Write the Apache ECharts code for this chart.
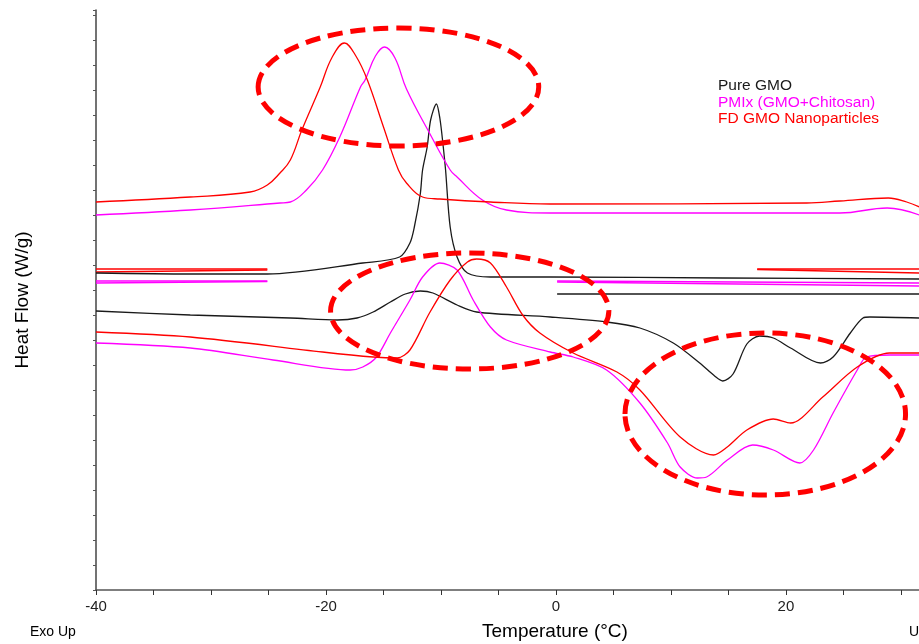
<!DOCTYPE html>
<html>
  <head>
    <meta charset="UTF-8" />
    <title>DSC</title>
    <style>
      html,
      body {
        margin: 0;
        padding: 0;
        width: 100%;
        height: 100%;
        background: #fff;
        overflow: hidden;
      }
      #main {
        width: 919px;
        height: 644px;
      }
    </style>
    <script src="https://cdn.jsdelivr.net/npm/echarts@6/dist/echarts.min.js"></script>
  </head>
  <body>
    <div id="main"></div>
    <script>
      var names = ["Pure GMO", "PMIx (GMO+Chitosan)", "FD GMO Nanoparticles"];
      var colors = ["#1a1a1a", "#ff00ff", "#ff0000"];
      var xTicks = [-40, -20, 0, 20];

      // [temperature, heat flow (arbitrary units)]
      var gmoUpper = [
        [-40, 31.7], [-31.8, 31.6], [-25.1, 31.6], [-16.8, 32.7], [-13.6, 33.3],
        [-12.7, 34.7], [-12.3, 36.4], [-11.8, 39.6], [-11.6, 42.0], [-11.2, 44.3],
        [-10.9, 47.0], [-10.4, 48.6], [-10.1, 47.2], [-9.8, 44.3], [-9.6, 42.0],
        [-9.2, 36.3], [-8.6, 33.3], [-7.7, 31.7], [-5.7, 31.3], [-0.5, 31.3],
        [14.5, 31.2], [31.6, 31.1]
      ];
      var gmoLower = [
        [-40, 27.9], [-31.8, 27.5], [-23.1, 27.2], [-19.0, 27.0], [-17.3, 27.2],
        [-15.9, 27.8], [-14.4, 28.8], [-13.1, 29.6], [-11.8, 29.9], [-10.7, 29.7],
        [-8.6, 28.5], [-6.9, 27.8], [-0.5, 27.3], [4.4, 26.8], [7.3, 26.2],
        [10.2, 24.7], [12.5, 22.7], [13.8, 21.4], [14.5, 20.9], [15.4, 21.6],
        [16.6, 24.6], [17.7, 25.4], [18.9, 25.2], [20.4, 24.2],
        [23.0, 22.7], [24.1, 23.3], [25.6, 25.7], [26.7, 27.2], [27.3, 27.3],
        [31.6, 27.2]
      ];
      var gmoIso = [[0.1, 29.6], [31.6, 29.6]];

      var pmixUpper = [
        [-40, 37.5], [-31.8, 38.0], [-24.0, 38.7], [-23.1, 38.8], [-21.7, 40.0],
        [-20.3, 42.0], [-18.8, 45.3], [-17.0, 50.3], [-16.6, 51.0], [-15.7, 53.4],
        [-14.9, 54.3], [-14.0, 53.2], [-13.0, 50.1], [-11.0, 45.7], [-9.2, 42.0],
        [-8.6, 41.3], [-6.4, 39.0], [-4.3, 38.0], [-0.5, 37.7], [13.1, 37.7],
        [24.7, 37.7], [28.8, 38.2], [31.6, 37.5]
      ];
      var pmixLower = [
        [-40, 24.7], [-31.8, 24.2], [-24.6, 23.0], [-17.9, 22.0], [-16.8, 22.3],
        [-15.6, 23.3], [-14.4, 25.7], [-12.7, 29.0], [-11.6, 31.3], [-10.1, 32.7],
        [-8.6, 32.0], [-7.2, 29.0], [-5.7, 26.3], [-4.3, 25.0], [-0.5, 23.8],
        [1.5, 23.3], [4.4, 22.0], [7.3, 18.7], [9.7, 14.7], [10.8, 12.3],
        [12.3, 11.2], [13.1, 11.3], [14.9, 13.0], [17.1, 14.5], [18.9, 14.0],
        [21.2, 12.7], [22.4, 14.0], [24.1, 17.7], [26.2, 22.0], [27.0, 23.3],
        [29.0, 23.5], [31.6, 23.5]
      ];
      var pmixIsoLeftA = [[-40, 30.9], [-25.1, 30.9]];
      var pmixIsoLeftB = [[-40, 30.7], [-25.1, 30.85]];
      var pmixIsoRightA = [[0.1, 30.9], [31.6, 30.7]];
      var pmixIsoRightB = [[0.1, 30.8], [31.6, 30.4]];

      var fdUpper = [
        [-40, 38.8], [-31.8, 39.3], [-26.6, 39.8], [-25.1, 40.5], [-24.0, 41.7],
        [-23.1, 43.0], [-22.1, 46.0], [-20.5, 50.3], [-19.5, 53.2], [-18.4, 54.7],
        [-17.4, 53.4], [-16.4, 51.0], [-15.0, 46.3], [-13.7, 42.0], [-13.0, 40.7],
        [-11.6, 39.3], [-10.1, 39.1], [-5.7, 38.8], [-0.5, 38.6], [21.8, 38.7],
        [24.7, 38.9], [28.9, 39.2], [30.5, 38.8], [31.6, 38.3]
      ];
      var fdLower = [
        [-40, 25.8], [-31.8, 25.3], [-20.3, 23.8], [-15.9, 23.3], [-13.8, 23.2],
        [-12.7, 24.0], [-11.0, 27.7], [-9.2, 31.0], [-7.7, 32.8], [-6.9, 33.1],
        [-5.7, 32.7], [-4.3, 30.3], [-2.9, 27.5], [-1.4, 25.7], [1.5, 23.7],
        [5.3, 21.8], [7.3, 20.0], [10.8, 15.3], [13.7, 13.5], [14.9, 14.3],
        [16.6, 16.0], [18.9, 17.1], [20.4, 16.7], [23.2, 19.3], [26.2, 22.3],
        [29.0, 23.7], [31.6, 23.7]
      ];
      var fdIsoLeftA = [[-40, 32.1], [-25.1, 32.1]];
      var fdIsoLeftB = [[-40, 31.8], [-25.1, 32.0]];
      var fdIsoRightA = [[17.5, 32.1], [31.6, 32.1]];
      var fdIsoRightB = [[17.5, 32.05], [31.6, 31.7]];

      // highlighted regions: centre temperature, centre value, half width, half height
      var rings = [
        [-13.7, 50.3, 12.2, 5.9],
        [-7.5, 27.9, 12.1, 5.8],
        [18.2, 17.6, 12.2, 8.1]
      ];

      var myChart = echarts.init(document.getElementById("main"));

      function line(name, data, idx, smooth) {
        return {
          name: name,
          type: "line",
          data: data,
          showSymbol: false,
          smooth: smooth,
          animation: false,
          silent: true,
          lineStyle: { color: colors[idx], width: 1.3 },
          itemStyle: { color: colors[idx] },
        };
      }

      var option = {
        animation: false,
        grid: {
          left: 96,
          right: 0,
          top: 10,
          bottom: 54,
          containLabel: false,
          outerBoundsMode: "none",
        },
        legend: {
          orient: "vertical",
          left: 707,
          top: 73,
          itemWidth: 0,
          itemHeight: 0,
          itemGap: 0.5,
          selectedMode: false,
          textStyle: { fontFamily: "Liberation Sans", fontSize: 15.5 },
          data: names.map(function (n, i) {
            return { name: n, textStyle: { color: colors[i] } };
          }),
        },
        xAxis: {
          type: "value",
          min: -40,
          max: 31.57,
          interval: 5,
          splitLine: { show: false },
          axisLine: { onZero: false, lineStyle: { color: "#555", width: 1.5 } },
          axisTick: { length: 5, lineStyle: { color: "#333" } },
          axisLabel: {
            margin: 9,
            color: "#222",
            fontFamily: "Liberation Sans",
            fontSize: 15,
            formatter: function (v) {
              return xTicks.indexOf(v) >= 0 ? String(v) : "";
            },
          },
        },
        yAxis: {
          type: "value",
          min: 0,
          max: 58,
          interval: 2.5,
          name: "Heat Flow (W/g)",
          nameLocation: "middle",
          nameGap: 64,
          nameTextStyle: {
            color: "#000",
            fontFamily: "Liberation Sans",
            fontSize: 19,
          },
          splitLine: { show: false },
          axisLine: { show: true, onZero: false, lineStyle: { color: "#444", width: 1.5 } },
          axisTick: { show: true, length: 3, lineStyle: { color: "#555" } },
          axisLabel: { show: false },
        },
        series: [
          line(names[2], fdIsoLeftA, 2, false),
          line(names[2], fdIsoLeftB, 2, false),
          line(names[2], fdIsoRightA, 2, false),
          line(names[2], fdIsoRightB, 2, false),
          line(names[1], pmixIsoLeftA, 1, false),
          line(names[1], pmixIsoLeftB, 1, false),
          line(names[1], pmixIsoRightA, 1, false),
          line(names[1], pmixIsoRightB, 1, false),
          line(names[0], gmoIso, 0, false),
          line(names[0], gmoUpper, 0, 0.3),
          line(names[0], gmoLower, 0, 0.3),
          line(names[1], pmixUpper, 1, 0.4),
          line(names[1], pmixLower, 1, 0.3),
          line(names[2], fdUpper, 2, 0.4),
          line(names[2], fdLower, 2, 0.3),
        ],
      };

      myChart.setOption(option);

      var textFont = "Liberation Sans";
      var graphics = [
        {
          type: "text",
          left: 557 - 75,
          top: 622,
          style: { text: "Temperature (°C)", fill: "#000", font: "19px " + textFont },
        },
        {
          type: "text",
          left: 30,
          top: 625,
          style: { text: "Exo Up", fill: "#000", font: "14px " + textFont },
        },
        {
          type: "text",
          left: 909,
          top: 625,
          style: { text: "Universal V4.5A TA Instruments", fill: "#000", font: "14px " + textFont },
        },
      ];

      rings.forEach(function (r) {
        var c = myChart.convertToPixel({ gridIndex: 0 }, [r[0], r[1]]);
        var e = myChart.convertToPixel({ gridIndex: 0 }, [r[0] + r[2], r[1] + r[3]]);
        graphics.push({
          type: "ellipse",
          silent: true,
          z: 10,
          shape: { cx: c[0], cy: c[1], rx: e[0] - c[0], ry: c[1] - e[1] },
          style: { fill: "none", stroke: "#ff0000", lineWidth: 5, lineDash: [15, 8] },
        });
      });

      myChart.setOption({ graphic: graphics });
    </script>
  </body>
</html>
